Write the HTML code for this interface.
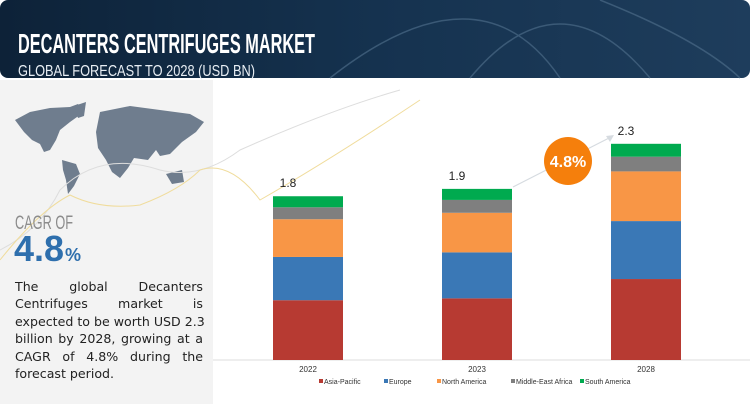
<!DOCTYPE html>
<html><head><meta charset="utf-8"><style>
body{margin:0;width:750px;height:404px;overflow:hidden;background:#fff;font-family:"Liberation Sans",sans-serif}
#wrap{position:relative;width:750px;height:404px}
div.desc{position:absolute;left:15px;top:278px;width:188px;margin:0;font-family:"DejaVu Sans","Liberation Sans",sans-serif;font-size:12.6px;line-height:17.4px;color:#222}
div.desc div{text-align:justify;text-align-last:justify;white-space:nowrap}
div.desc div.last{text-align-last:left}
</style></head><body>
<div id="wrap">
<svg width="750" height="404" style="position:absolute;left:0;top:0">
<defs><linearGradient id="hg" x1="0" x2="1"><stop offset="0" stop-color="#0d2238"/><stop offset="0.5" stop-color="#15324f"/><stop offset="1" stop-color="#1e3d5c"/></linearGradient></defs>
<rect x="0" y="0" width="750" height="78" rx="8" fill="url(#hg)"/>
<path d="M330 78 Q480 -40 560 78 M470 78 Q560 -30 650 78 M600 0 Q700 40 740 78" stroke="#4a6a86" stroke-width="1.5" fill="none" opacity="0.7"/>
<text x="18" y="53" font-size="28" font-weight="bold" fill="#fff" textLength="297" lengthAdjust="spacingAndGlyphs">DECANTERS CENTRIFUGES MARKET</text>
<text x="18" y="76" font-size="16" fill="#e8eef4" textLength="237" lengthAdjust="spacingAndGlyphs">GLOBAL FORECAST TO 2028 (USD BN)</text>
<rect x="0" y="80" width="213" height="324" fill="#f3f3f3"/>
<g fill="#6f7d8e">
<path d="M15 120 L30 112 L50 108 L70 107 L78 104 L84 112 L70 122 L60 130 L56 140 L50 150 L44 152 L40 144 L32 140 L24 132 Z"/>
<path d="M74 106 L86 102 L84 116 L78 118 Z"/>
<path d="M62 160 L76 164 L80 174 L74 186 L68 194 L66 180 L63 170 Z"/>
<path d="M100 112 L130 106 L160 110 L190 114 L204 122 L196 132 L182 142 L170 154 L160 156 L156 150 L148 160 L134 158 L128 168 L120 178 L112 172 L106 160 L98 148 L96 132 Z"/>
<path d="M166 174 L182 170 L184 182 L172 184 Z"/>
</g>
<path d="M0 250 Q40 230 60 190 Q100 150 160 170 Q200 180 240 150 Q330 110 400 90" stroke="#ddd" fill="none"/>
<path d="M0 260 Q40 210 70 195 Q100 210 140 205 Q180 190 200 170 Q230 160 260 200 Q330 160 420 100" stroke="#f0dc9c" fill="none"/>
<text x="15" y="229" font-size="19" fill="#8c8c8c" textLength="58" lengthAdjust="spacingAndGlyphs">CAGR OF</text>
<text x="14" y="261" font-size="36" font-weight="bold" fill="#2e6fad" textLength="50" lengthAdjust="spacingAndGlyphs">4.8</text><text x="65" y="261" font-size="18" font-weight="bold" fill="#2e6fad">%</text>
<line x1="213" y1="360" x2="750" y2="360" stroke="#eee" stroke-width="2"/>
<g id="bars"></g>
<line x1="513" y1="187" x2="611" y2="137" stroke="#d6dbe0" stroke-width="1.2"/>
<path d="M614 135 L606 136 L610 142 Z" fill="#d6dbe0"/>
<circle cx="568" cy="161" r="24" fill="#f57f0c"/>
<text x="568" y="167" font-size="16" font-weight="bold" fill="#fff" text-anchor="middle">4.8%</text>
<g id="legend"></g>
</svg>
<div class="desc">
<div>The global Decanters</div>
<div>Centrifuges market is</div>
<div>expected to be worth USD 2.3</div>
<div>billion by 2028, growing at a</div>
<div>CAGR of 4.8% during the</div>
<div class="last">forecast period.</div>
</div>
</div>
<script>
const categories=["2022","2023","2028"];
const totals=["1.8","1.9","2.3"];
const seriesNames=["Asia-Pacific","Europe","North America","Middle-East Africa","South America"];
const asiaPacific=[0.65,0.67,0.88];
const europe=[0.47,0.50,0.63];
const northAmerica=[0.41,0.43,0.54];
const middleEastAfrica=[0.13,0.14,0.16];
const southAmerica=[0.12,0.12,0.14];
const colors=["#b73a32","#3a78b6","#f89646","#7f7f7f","#00aa4f"];
const NS="http://www.w3.org/2000/svg";
const series=[asiaPacific,europe,northAmerica,middleEastAfrica,southAmerica];
const baseY=360,scale=92,barW=70;
const xPos=i=>273+i*169;
const yPos=v=>baseY-v*scale;
const g=document.getElementById('bars');
function mk(t,a){const e=document.createElementNS(NS,t);for(const k in a)e.setAttribute(k,a[k]);return e;}
categories.forEach((c,i)=>{
  let cum=0;
  series.forEach((s,j)=>{
    const r=mk('rect',{x:xPos(i),y:yPos(cum+s[i]),width:barW,height:s[i]*scale,fill:colors[j]});
    
    
    g.appendChild(r);cum+=s[i];
  });
  const t=mk('text',{x:xPos(i)+15,y:yPos(cum)-9,'font-size':12,fill:'#222','text-anchor':'middle'});
  t.textContent=totals[i];
  
  
  g.appendChild(t);
  const xl=mk('text',{x:xPos(i)+barW/2,y:372,'font-size':8,fill:'#333','text-anchor':'middle'});
  xl.textContent=c;
  
  
  g.appendChild(xl);
});
const lg=document.getElementById('legend');
const lx=[319,384,437,511,580];
seriesNames.forEach((n,j)=>{
  const r=mk('rect',{x:lx[j],y:379,width:4,height:4,fill:colors[j]});
  
  
  lg.appendChild(r);
  const t=mk('text',{x:lx[j]+5,y:384,'font-size':7,fill:'#333'});
  t.textContent=n;
  
  
  lg.appendChild(t);
});
</script>
</body></html>
